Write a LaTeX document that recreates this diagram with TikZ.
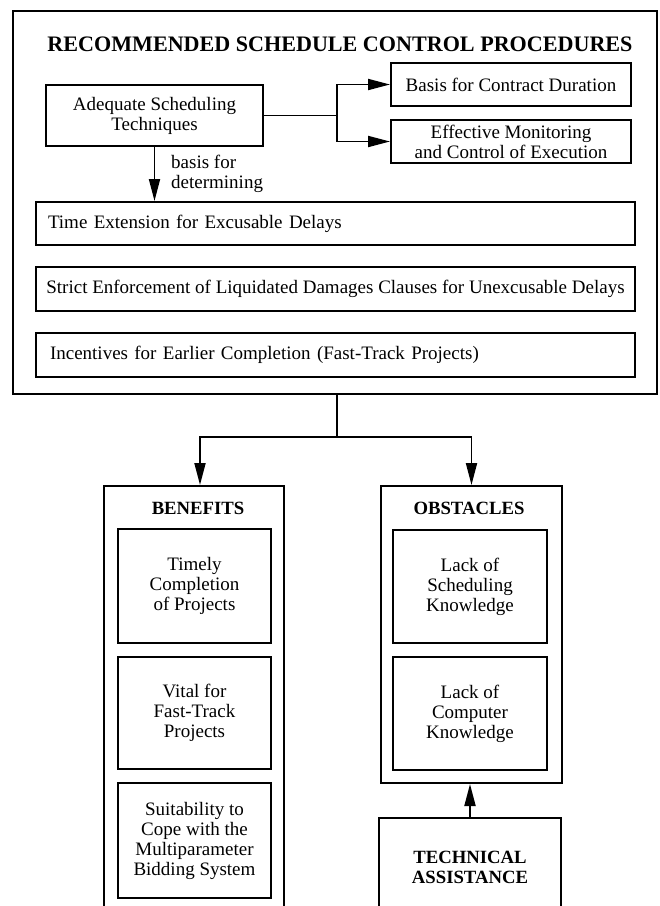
\documentclass[tikz,border=0pt]{standalone}
\usepackage{fontspec}
\setmainfont{Liberation Serif}
\usetikzlibrary{arrows.meta}
\newcommand\diagbody{\fontsize{19}{20}\selectfont}
\newcommand\diaghead{\fontsize{18.7}{20}\selectfont\bfseries}
\newcommand\diagtitle{\fontsize{22.1}{24}\selectfont\bfseries}
\begin{document}
\begin{tikzpicture}[x=1pt,y=-1pt,
  frame/.style={draw, line width=2pt, inner sep=0pt, align=center, font=\diagbody},
  conn/.style={line width=1.9pt},
  arr/.style={-{Triangle[length=22pt,width=11pt]}}
]
\useasboundingbox (0,0) rectangle (660,906);
\fill[white] (0,0) rectangle (660,906);
\clip (0,0) rectangle (660,906);

% recommended procedures panel
\node[frame, minimum width=644pt, minimum height=383pt] (rscp) at (335,202.5) {};
\node[font=\diagtitle] (title) at (340,44) {RECOMMENDED SCHEDULE CONTROL PROCEDURES};
\node[frame, minimum width=217pt, minimum height=61pt] (adequate) at (154.5,115.5) {Adequate Scheduling\\Techniques};
\node[frame, minimum width=240pt, minimum height=43pt] (basis) at (511,84.5) {Basis for Contract Duration};
\node[frame, minimum width=240pt, minimum height=43pt] (monitor) at (511,141.5) {Effective Monitoring\\and Control of Execution};
\node[frame, minimum width=599pt, minimum height=43pt, text width=575pt, inner xsep=12pt, align=left] (timeext) at (335.5,223.5) {Time Extension for Excusable Delays};
\node[frame, minimum width=599pt, minimum height=44pt] (strict) at (335.5,289) {Strict Enforcement of Liquidated Damages Clauses for Unexcusable Delays};
\node[frame, minimum width=599pt, minimum height=44pt, text width=571pt, inner xsep=14pt, align=left] (incent) at (335.5,355) {Incentives for Earlier Completion (Fast-Track Projects)};

% links inside the panel
\coordinate (fork) at (337,115.5);
\draw[conn] (adequate.east) -- (fork);
\draw[conn,arr] (fork) |- (basis.west);
\draw[conn,arr] (fork) |- (monitor.west);
\draw[conn,arr] (adequate.south) -- (adequate.south |- timeext.north);
\node[font=\diagbody, align=left, anchor=west, inner sep=0pt] (basislbl) at (171,174) {basis for\\determining};

% benefits column
\node[frame, minimum width=180pt, minimum height=460pt] (benefits) at (194,716) {};
\node[font=\diaghead] (benefitstitle) at (198,508) {BENEFITS};
\node[frame, minimum width=153pt, minimum height=114pt] (timely) at (194.5,586) {Timely\\Completion\\of Projects};
\node[frame, minimum width=153pt, minimum height=112pt] (vital) at (194.5,713) {Vital for\\Fast-Track\\Projects};
\node[frame, minimum width=153pt, minimum height=115pt] (suit) at (194.5,840.5) {Suitability to\\Cope with the\\Multiparameter\\Bidding System};

% obstacles column
\node[frame, minimum width=181pt, minimum height=297pt] (obstacles) at (471.5,634.5) {};
\node[font=\diaghead] (obstaclestitle) at (469,508) {OBSTACLES};
\node[frame, minimum width=154pt, minimum height=113pt] (lacksched) at (470,586.5) {Lack of\\Scheduling\\Knowledge};
\node[frame, minimum width=154pt, minimum height=113pt] (lackcomp) at (470,713.5) {Lack of\\Computer\\Knowledge};
\node[frame, font=\diaghead, minimum width=182pt, minimum height=99pt] (technical) at (470,867.5) {TECHNICAL\\ASSISTANCE};

% links below the panel
\coordinate (split) at (337,437);
\draw[conn] (split |- rscp.south) -- (split);
\draw[conn,arr] (split) -| ([xshift=6pt]benefits.north);
\draw[conn,arr] (split) -| (obstacles.north);
\draw[conn,arr] (technical.north) -- (technical.north |- obstacles.south);
\end{tikzpicture}
\end{document}
